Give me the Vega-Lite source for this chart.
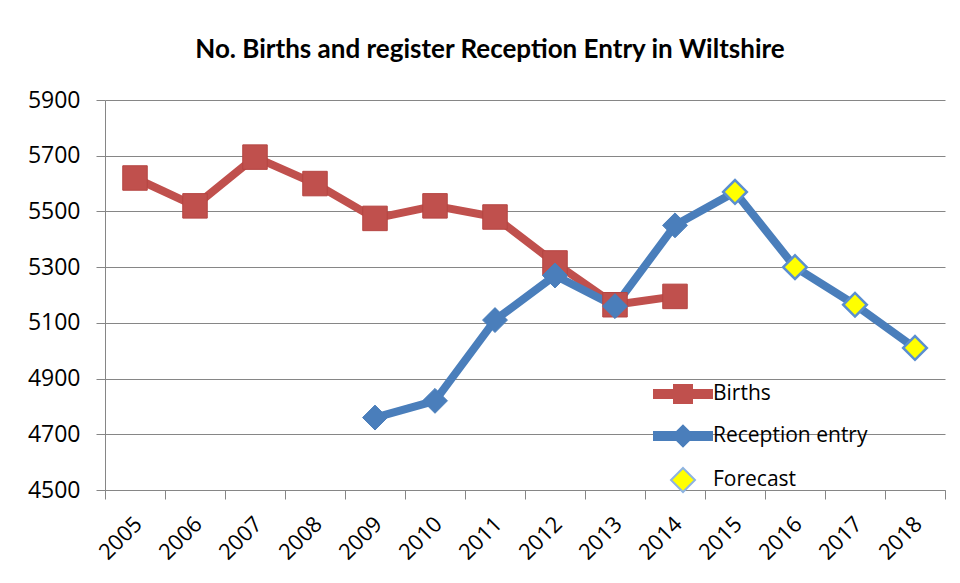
{
  "$schema": "https://vega.github.io/schema/vega-lite/v6.json",
  "autosize": "none",
  "width": 840,
  "height": 390,
  "padding": {"left": 105, "top": 100, "right": 15, "bottom": 93},
  "background": "white",
  "title": {
    "text": "No. Births and register Reception Entry  in Wiltshire",
    "font": "Lato",
    "fontSize": 26,
    "fontWeight": "bold",
    "color": "#000000",
    "anchor": "middle",
    "dx": -35,
    "offset": 26
  },
  "config": {
    "view": {"stroke": null},
    "font": "Lato"
  },
  "data": {
    "values": [
      {"year": "2005", "series": "Births", "type": "Births", "value": 5620},
      {"year": "2006", "series": "Births", "type": "Births", "value": 5520},
      {"year": "2007", "series": "Births", "type": "Births", "value": 5695},
      {"year": "2008", "series": "Births", "type": "Births", "value": 5600},
      {"year": "2009", "series": "Births", "type": "Births", "value": 5475},
      {"year": "2010", "series": "Births", "type": "Births", "value": 5520},
      {"year": "2011", "series": "Births", "type": "Births", "value": 5480},
      {"year": "2012", "series": "Births", "type": "Births", "value": 5315},
      {"year": "2013", "series": "Births", "type": "Births", "value": 5165},
      {"year": "2014", "series": "Births", "type": "Births", "value": 5195},
      {"year": "2009", "series": "Reception entry", "type": "Reception entry", "value": 4760},
      {"year": "2010", "series": "Reception entry", "type": "Reception entry", "value": 4820},
      {"year": "2011", "series": "Reception entry", "type": "Reception entry", "value": 5110},
      {"year": "2012", "series": "Reception entry", "type": "Reception entry", "value": 5270},
      {"year": "2013", "series": "Reception entry", "type": "Reception entry", "value": 5160},
      {"year": "2014", "series": "Reception entry", "type": "Reception entry", "value": 5450},
      {"year": "2015", "series": "Reception entry", "type": "Forecast", "value": 5570},
      {"year": "2016", "series": "Reception entry", "type": "Forecast", "value": 5300},
      {"year": "2017", "series": "Reception entry", "type": "Forecast", "value": 5165},
      {"year": "2018", "series": "Reception entry", "type": "Forecast", "value": 5010}
    ]
  },
  "encoding": {
    "x": {
      "field": "year",
      "type": "ordinal",
      "bandPosition": 0.5,
      "scale": {"type": "band", "paddingInner": 0, "paddingOuter": 0,
        "domain": ["2005","2006","2007","2008","2009","2010","2011","2012","2013","2014","2015","2016","2017","2018"]},
      "axis": {
        "title": null,
        "tickBand": "extent",
        "labelAngle": -45,
        "labelFontSize": 22,
        "labelFont": "Open Sans",
        "labelColor": "#000000",
        "labelPadding": 14,
        "labelOffset": -4,
        "tickSize": 9,
        "tickColor": "#868686",
        "domainColor": "#868686",
        "grid": false
      }
    },
    "y": {
      "field": "value",
      "type": "quantitative",
      "scale": {"domain": [4500, 5900], "nice": false, "zero": false},
      "axis": {
        "title": null,
        "values": [4500, 4700, 4900, 5100, 5300, 5500, 5700, 5900],
        "format": "d",
        "labelFontSize": 23,
        "labelFont": "Open Sans",
        "labelColor": "#000000",
        "labelPadding": 16,
        "tickSize": 9,
        "tickColor": "#868686",
        "domainColor": "#868686",
        "grid": true,
        "gridColor": "#868686",
        "gridOpacity": 1
      }
    }
  },
  "layer": [
    {
      "transform": [{"filter": "datum.series == 'Births'"}],
      "mark": {"type": "line", "color": "#C0504D", "strokeWidth": 8, "strokeJoin": "round", "strokeCap": "round"}
    },
    {
      "transform": [{"filter": "datum.series == 'Reception entry'"}],
      "mark": {"type": "line", "color": "#4A7EBB", "strokeWidth": 8, "strokeJoin": "round", "strokeCap": "round"}
    },
    {
      "transform": [{"filter": "datum.type == 'Births'"}],
      "mark": {"type": "point", "shape": "square", "size": 600, "filled": true, "fill": "#C0504D", "stroke": "#B54542", "strokeWidth": 1, "opacity": 1}
    },
    {
      "transform": [{"filter": "datum.type == 'Reception entry'"}],
      "mark": {"type": "point", "shape": "diamond", "size": 620, "filled": true, "fill": "#4A7EBB", "stroke": "#4A7EBB", "strokeWidth": 1, "opacity": 1}
    },
    {
      "transform": [{"filter": "datum.type == 'Forecast'"}],
      "mark": {"type": "point", "shape": "diamond", "size": 560, "filled": true, "fill": "#FFFF00", "stroke": "#5B8FD0", "strokeWidth": 2.5, "opacity": 1}
    },
    {
      "mark": {"type": "point", "filled": true, "opacity": 0, "strokeWidth": 2},
      "encoding": {
        "shape": {
          "field": "type",
          "type": "nominal",
          "scale": {
            "domain": ["Births", "Reception entry", "Forecast"],
            "range": [
              "M-1.45,-0.2L1.45,-0.2L1.45,0.2L-1.45,0.2Z M-0.45,-0.45L0.45,-0.45L0.45,0.45L-0.45,0.45Z",
              "M-1.45,-0.2L1.45,-0.2L1.45,0.2L-1.45,0.2Z M0,-0.52L0.52,0L0,0.52L-0.52,0Z",
              "M0,-0.6L0.6,0L0,0.6L-0.6,0Z"
            ]
          },
          "legend": {
            "title": null,
            "orient": "none",
            "legendX": 557,
            "legendY": 273,
            "symbolSize": 1600,
            "symbolOpacity": 1,
            "symbolStrokeWidth": 2,
            "labelFontSize": 21,
            "labelFont": "Open Sans",
            "labelColor": "#000000",
            "labelOffset": 9,
            "rowPadding": 8
          }
        },
        "fill": {
          "field": "type",
          "type": "nominal",
          "scale": {"domain": ["Births", "Reception entry", "Forecast"], "range": ["#C0504D", "#4A7EBB", "#FFFF00"]},
          "legend": {
            "title": null,
            "orient": "none",
            "legendX": 557,
            "legendY": 273,
            "symbolSize": 1600,
            "symbolOpacity": 1,
            "symbolStrokeWidth": 2,
            "labelFontSize": 21,
            "labelFont": "Open Sans",
            "labelColor": "#000000",
            "labelOffset": 9,
            "rowPadding": 8
          }
        },
        "stroke": {
          "field": "type",
          "type": "nominal",
          "scale": {"domain": ["Births", "Reception entry", "Forecast"], "range": ["#C0504D", "#4A7EBB", "#8DB3E2"]},
          "legend": {
            "title": null,
            "orient": "none",
            "legendX": 557,
            "legendY": 273,
            "symbolSize": 1600,
            "symbolOpacity": 1,
            "symbolStrokeWidth": 2,
            "labelFontSize": 21,
            "labelFont": "Open Sans",
            "labelColor": "#000000",
            "labelOffset": 9,
            "rowPadding": 8
          }
        }
      }
    }
  ]
}
